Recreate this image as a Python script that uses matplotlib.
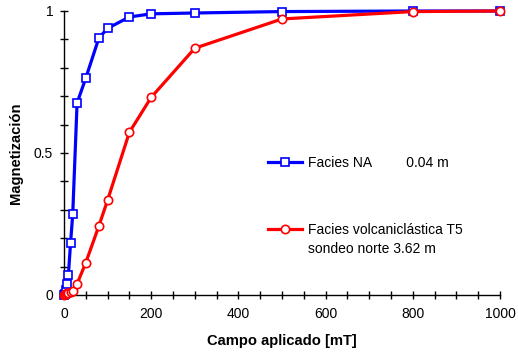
import matplotlib
matplotlib.use("Agg")
import matplotlib.pyplot as plt
from matplotlib.ticker import MultipleLocator

plt.rcParams['font.family'] = ['Liberation Sans', 'DejaVu Sans']

field_na = [0, 2, 5, 8, 10, 15, 20, 30, 50, 80, 100, 150, 200, 300, 500, 800, 1000]
mag_na = [0, 0.005, 0.018, 0.04, 0.069, 0.182, 0.284, 0.676, 0.764, 0.905, 0.939,
          0.979, 0.99, 0.993, 0.998, 1.0, 1.0]

field_t5 = [0, 2, 5, 8, 10, 15, 20, 30, 50, 80, 100, 150, 200, 300, 500, 800, 1000]
mag_t5 = [0, 0.002, 0.004, 0.006, 0.008, 0.010, 0.013, 0.039, 0.114, 0.243, 0.334,
          0.573, 0.696, 0.869, 0.972, 0.998, 1.0]

label_na = "Facies NA         0.04 m"
label_t5_line1 = "Facies volcaniclástica T5"
label_t5_line2 = "sondeo norte 3.62 m"
xlabel = "Campo aplicado [mT]"
ylabel = "Magnetización"

FS = 10
FS_LABEL = 10.6

fig = plt.figure(figsize=(5.18, 3.54), dpi=100)
ax = fig.add_axes([64/518, 1-295/354, (500-64)/518, (295-11)/354])

l1, = ax.plot(field_na, mag_na, color='#0000FF', lw=2.3, marker='s', ms=6.2,
              mfc='white', mec='#0000FF', mew=1.2, clip_on=False, zorder=3)
l2, = ax.plot(field_t5, mag_t5, color='#FF0000', lw=2.3, marker='o', ms=6.0,
              mfc='white', mec='#FF0000', mew=1.2, clip_on=False, zorder=4)

ax.set_xlim(0, 1000)
ax.set_ylim(0, 1)
ax.xaxis.set_minor_locator(MultipleLocator(50))
ax.yaxis.set_minor_locator(MultipleLocator(0.1))
ax.set_yticks([0, 0.5, 1])
ax.set_yticklabels(['0', '0.5', '1'])
ax.set_xticks([0, 200, 400, 600, 800, 1000])
ax.set_xticklabels(['0', '200', '400', '600', '800', '1000'])

for s in ['top', 'right']:
    ax.spines[s].set_visible(False)
for s in ['left', 'bottom']:
    ax.spines[s].set_linewidth(1.0)

ax.tick_params(which='both', direction='inout', labelsize=FS, width=1.0, color='black')
ax.tick_params(which='both', length=5.5)
ax.tick_params(axis='x', which='major', pad=6)
ax.tick_params(axis='y', which='major', pad=5)

ax.set_xlabel(xlabel, fontsize=FS_LABEL, fontweight='bold', labelpad=9.5)
ax.set_ylabel(ylabel, fontsize=FS_LABEL, fontweight='bold', labelpad=8)

common = dict(frameon=False, fontsize=FS, handlelength=2.45, handletextpad=0.42,
              borderpad=0, borderaxespad=0)
leg1 = ax.legend([l1], [label_na], loc='center left',
                 bbox_to_anchor=(204/436, (295-163)/284), **common)
ax.add_artist(leg1)
leg2 = ax.legend([l2], [label_t5_line1], loc='center left',
                 bbox_to_anchor=(204/436, (295-230)/284), **common)
ax.text(308, 354 - 249, label_t5_line2, fontsize=FS, ha='left', va='center',
        transform=None)

fig.savefig('out.png', dpi=100)
